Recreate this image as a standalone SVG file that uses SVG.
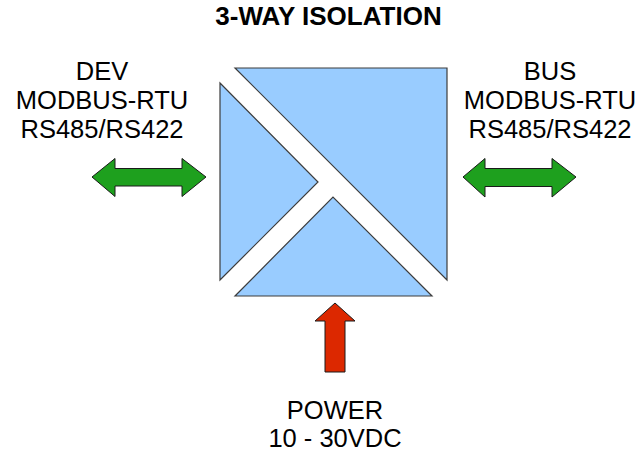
<svg xmlns="http://www.w3.org/2000/svg" width="642" height="452" viewBox="0 0 642 452">
<style>
.blk{fill:#99ccff;stroke:#3c3c3c;stroke-width:1.2;stroke-linejoin:miter}
.grn{fill:#1ea01e;stroke:#1a1a1a;stroke-width:1}
.red{fill:#dc2800;stroke:#1a1a1a;stroke-width:1}
text{font-family:"Liberation Sans",Arial,sans-serif;font-size:25.5px;fill:#000;text-anchor:middle}
.title{font-weight:bold;font-size:26px}
</style>
<rect width="642" height="452" fill="#fff"/>
<g id="title"><text class="title" x="328.5" y="25">3-WAY ISOLATION</text></g>
<g id="isolator">
<polygon class="blk" points="235,68 447,68 447,280"/>
<polygon class="blk" points="220,83 318,182 220,280"/>
<polygon class="blk" points="235,296 333,197 432,296"/>
</g>
<g id="dev">
<text x="102" y="80">DEV</text>
<text x="102" y="109">MODBUS-RTU</text>
<text x="102" y="138">RS485/RS422</text>
</g>
<g id="bus">
<text x="550" y="80">BUS</text>
<text x="550" y="109">MODBUS-RTU</text>
<text x="550" y="138">RS485/RS422</text>
</g>
<g id="power">
<text x="335" y="418.5">POWER</text>
<text x="335" y="447">10 - 30VDC</text>
</g>
<g id="connectors">
<polygon class="grn" points="92,177 115,158.5 115,168.5 182,168.5 182,158.5 206,177 182,196.5 182,186 115,186 115,196.5"/>
<polygon class="grn" points="463,177 485,158.5 485,168.5 552,168.5 552,158.5 576,177 552,197 552,186.5 485,186.5 485,197"/>
<polygon class="red" points="335,303 355,321 345,321 345,372 325,372 325,321 315,321"/>
</g>
</svg>
